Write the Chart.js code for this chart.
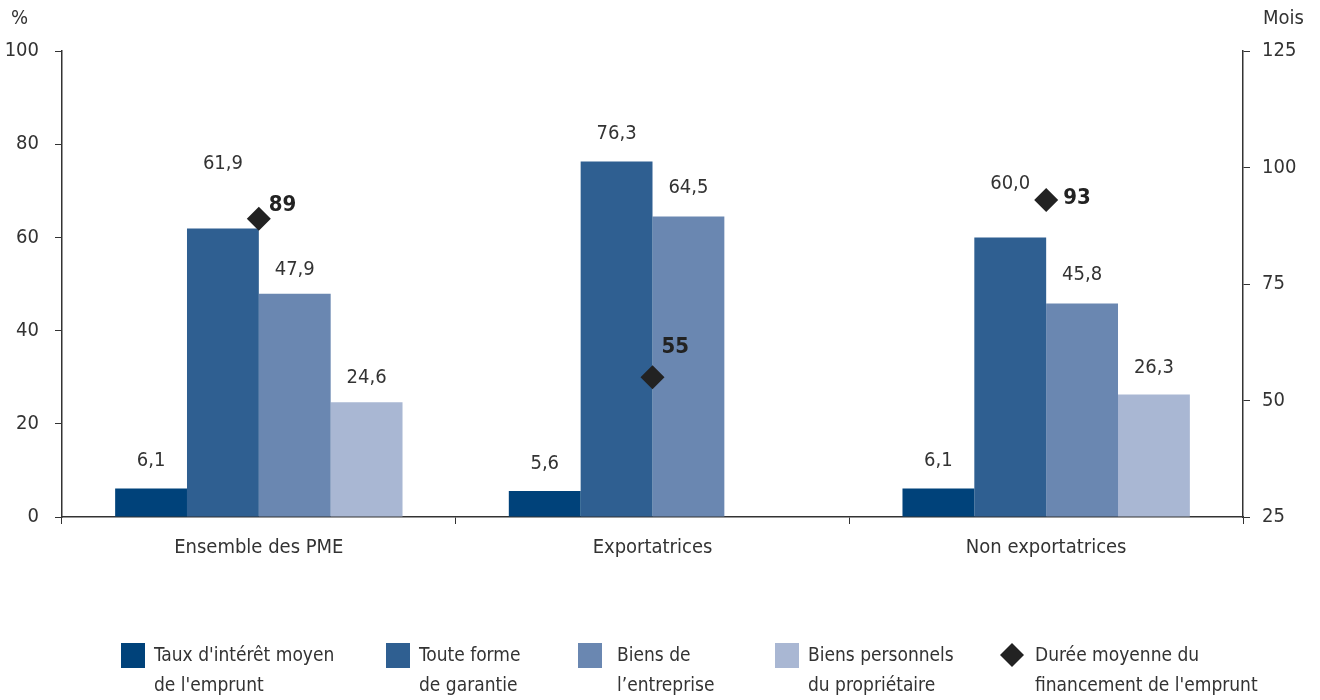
<!DOCTYPE html>
<html lang="fr">
<head>
    <meta charset="UTF-8">
    <title>PME - garanties et emprunts</title>
    <script src="https://cdn.jsdelivr.net/npm/chart.js@4.4.0/dist/chart.umd.min.js"></script>
    <style>
        html, body { margin: 0; padding: 0; background: #fff; }
        #wrap { width: 1320px; height: 700px; position: relative; }
    </style>
</head>
<body>
    <div id="wrap">
        <canvas id="myChart" width="1320" height="700"></canvas>
    </div>

    <script>
        // data
        var categories = ['Ensemble des PME', 'Exportatrices', 'Non exportatrices'];
        var tauxInteret = [6.1, 5.6, 6.1];
        var touteGarantie = [61.9, 76.3, 60.0];
        var biensEntreprise = [47.9, 64.5, 45.8];
        var biensPersonnels = [24.6, null, 26.3];
        var dureeMoyenne = [89, 55, 93];

        var seriesNames = [
            ["Taux d'intérêt moyen", "de l'emprunt"],
            ["Toute forme", "de garantie"],
            ["Biens de", "l’entreprise"],
            ["Biens personnels", "du propriétaire"],
            ["Durée moyenne du", "financement de l'emprunt"]
        ];
        var colors = ['#00427a', '#2f5f91', '#6a87b1', '#a9b7d3'];
        var diamondColor = '#222222';

        var leftTicks = [0, 20, 40, 60, 80, 100];
        var rightTicks = [25, 50, 75, 100, 125];

        var FONT = "'Liberation Sans Narrow', 'Arial Narrow', 'DejaVu Sans Condensed', sans-serif";
        var TEXT = '#333333';
        var AXIS = '#333333';

        // label tweaks (pixel lifts) so labels avoid the diamonds
        var barLabelLift = [
            [28, 27, 28],
            [65, 28, 54],
            [24, 29, 29],
            [25, 26, 27]
        ];
        var diamondLabelShift = [[22, -13], [21, -30], [29, -2]];
        var legendX = [121, 386, 578, 775, 1000];

        function fmt(v) {
            return v.toFixed(1).replace('.', ',');
        }

        var valueLabels = {
            id: 'valueLabels',
            afterDatasetsDraw: function (chart) {
                var ctx = chart.ctx;
                ctx.save();
                ctx.textBaseline = 'middle';
                chart.data.datasets.forEach(function (ds, di) {
                    var meta = chart.getDatasetMeta(di);
                    meta.data.forEach(function (el, i) {
                        var v = ds.data[i];
                        if (v === null || v === undefined) return;
                        if (ds.type === 'line') {
                            ctx.font = 'bold 22px ' + FONT;
                            ctx.fillStyle = diamondColor;
                            ctx.textAlign = 'left';
                            ctx.fillText(String(v), el.x + diamondLabelShift[i][0] - 12, el.y + diamondLabelShift[i][1]);
                        } else {
                            ctx.font = '20px ' + FONT;
                            ctx.fillStyle = TEXT;
                            ctx.textAlign = 'center';
                            ctx.fillText(fmt(v), el.x, el.y - barLabelLift[di][i]);
                        }
                    });
                });
                ctx.restore();
            }
        };

        var extras = {
            id: 'extras',
            afterDraw: function (chart) {
                var ctx = chart.ctx;
                ctx.save();
                ctx.fillStyle = TEXT;
                ctx.font = '20px ' + FONT;
                ctx.textBaseline = 'middle';
                ctx.textAlign = 'left';
                ctx.fillText('%', 11, 19);
                ctx.fillText('Mois', 1263, 19);

                // legend
                ctx.font = '19px ' + FONT;
                seriesNames.forEach(function (lines, i) {
                    var x = legendX[i];
                    if (i < 4) {
                        ctx.fillStyle = colors[i];
                        ctx.fillRect(x, 643, 24, 25);
                    } else {
                        ctx.fillStyle = diamondColor;
                        ctx.beginPath();
                        ctx.moveTo(x + 12, 643);
                        ctx.lineTo(x + 24, 655);
                        ctx.lineTo(x + 12, 667);
                        ctx.lineTo(x, 655);
                        ctx.closePath();
                        ctx.fill();
                    }
                    ctx.fillStyle = TEXT;
                    var tx = x + (i === 4 ? 35 : (i === 2 ? 39 : 33));
                    ctx.fillText(lines[0], tx, 656);
                    ctx.fillText(lines[1], tx, 686);
                });
                ctx.restore();
            }
        };

        function barSet(idx, data) {
            return {
                type: 'bar',
                label: seriesNames[idx].join(' '),
                data: data,
                backgroundColor: colors[idx],
                borderWidth: 0,
                yAxisID: 'y',
                order: 1,
                categoryPercentage: 0.73,
                barPercentage: 1.0
            };
        }

        var ctx = document.getElementById('myChart').getContext('2d');
        var myChart = new Chart(ctx, {
            data: {
                labels: categories,
                datasets: [
                    barSet(0, tauxInteret),
                    barSet(1, touteGarantie),
                    barSet(2, biensEntreprise),
                    barSet(3, biensPersonnels),
                    {
                        type: 'line',
                        label: seriesNames[4].join(' '),
                        data: dureeMoyenne,
                        yAxisID: 'y1',
                        showLine: false,
                        pointStyle: 'rectRot',
                        pointRadius: 12,
                        pointHoverRadius: 12,
                        pointBackgroundColor: diamondColor,
                        pointBorderColor: diamondColor,
                        pointBorderWidth: 0,
                        order: 0
                    }
                ]
            },
            options: {
                responsive: false,
                animation: false,
                layout: { padding: { top: 51, left: 0, right: 0, bottom: 0 } },
                plugins: {
                    legend: { display: false },
                    tooltip: { enabled: false }
                },
                scales: {
                    x: {
                        offset: true,
                        grid: {
                            offset: true,
                            drawOnChartArea: false,
                            color: AXIS,
                            tickLength: 7,
                            tickColor: AXIS
                        },
                        border: { color: AXIS, width: 1.5 },
                        ticks: {
                            color: TEXT,
                            font: { family: FONT, size: 20 },
                            padding: 12
                        },
                        afterFit: function (s) { s.height = 183; }
                    },
                    y: {
                        position: 'left',
                        min: 0,
                        max: 100,
                        afterBuildTicks: function (s) {
                            s.ticks = leftTicks.map(function (v) { return { value: v }; });
                        },
                        grid: {
                            drawOnChartArea: false,
                            color: AXIS,
                            tickLength: 7,
                            tickColor: AXIS
                        },
                        border: { color: AXIS, width: 1.5 },
                        ticks: {
                            color: TEXT,
                            font: { family: FONT, size: 20 },
                            padding: 16
                        },
                        afterFit: function (s) { s.width = 62; }
                    },
                    y1: {
                        position: 'right',
                        min: 25,
                        max: 125,
                        afterBuildTicks: function (s) {
                            s.ticks = rightTicks.map(function (v) { return { value: v }; });
                        },
                        grid: {
                            drawOnChartArea: false,
                            color: AXIS,
                            tickLength: 7,
                            tickColor: AXIS
                        },
                        border: { color: AXIS, width: 1.5 },
                        ticks: {
                            color: TEXT,
                            font: { family: FONT, size: 20 },
                            padding: 12
                        },
                        afterFit: function (s) { s.width = 77; }
                    }
                }
            },
            plugins: [valueLabels, extras]
        });
    </script>
</body>
</html>
